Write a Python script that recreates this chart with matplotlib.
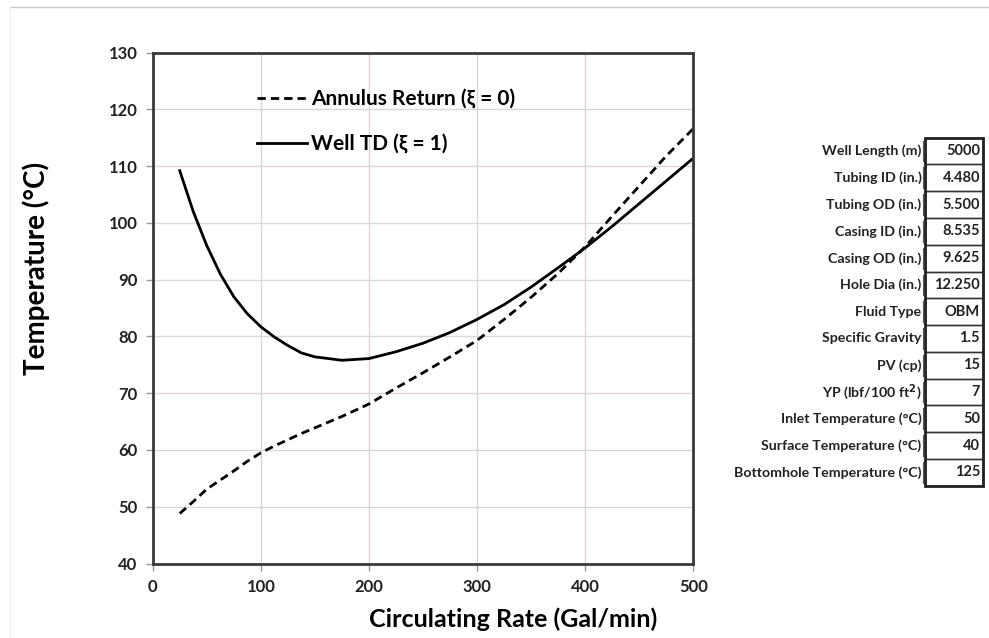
import matplotlib
matplotlib.use("Agg")
import matplotlib.pyplot as plt
from matplotlib.lines import Line2D
from matplotlib.patches import Rectangle

plt.rcParams['font.family'] = ['Lato', 'DejaVu Sans']
plt.rcParams['font.weight'] = 'bold'

# ---- data ----
rate = [25, 37.5, 50, 62.5, 75, 87.5, 100, 112.5, 125, 137.5, 150,
        175, 200, 225, 250, 275, 300, 325, 350, 375, 400, 425, 450, 475, 500]
annulus_return = [48.8, 50.9, 53.1, 54.7, 56.3, 58.0, 59.5, 60.7, 61.8, 62.9, 63.9,
                  65.9, 68.1, 70.9, 73.6, 76.4, 79.3, 83.0, 86.9, 91.1, 95.8,
                  101.2, 106.5, 111.8, 116.6]
well_td = [109.2, 102.0, 96.0, 91.0, 87.0, 84.0, 81.7, 79.9, 78.4, 77.1, 76.4,
           75.8, 76.1, 77.3, 78.8, 80.7, 83.0, 85.6, 88.7, 92.1, 95.6,
           99.4, 103.4, 107.4, 111.4]

x_ticks = [0, 100, 200, 300, 400, 500]
y_ticks = [40, 50, 60, 70, 80, 90, 100, 110, 120, 130]

param_names = ["Well Length (m)", "Tubing ID (in.)", "Tubing OD (in.)",
               "Casing ID (in.)", "Casing OD (in.)", "Hole Dia (in.)",
               "Fluid Type", "Specific Gravity", "PV (cp)",
               "YP (lbf/100 ft$^2$)", "Inlet Temperature (°C)",
               "Surface Temperature (°C)", "Bottomhole Temperature (°C)"]
param_values = ["5000", "4.480", "5.500", "8.535", "9.625", "12.250", "OBM",
                "1.5", "15", "7", "50", "40", "125"]

W, H = 989, 638
fig = plt.figure(figsize=(W / 100, H / 100), dpi=100)
ax = fig.add_axes([152.7 / W, 1 - 563.5 / H, (693.3 - 152.7) / W, (563.5 - 52.6) / H])

ax.plot(rate, annulus_return, color='black', lw=2, ls=(0, (3, 1.8)),
        label='Annulus Return (ξ = 0)')
ax.plot(rate, well_td, color='black', lw=2, ls='-', label='Well TD (ξ = 1)')

ax.set_xlim(0, 500)
ax.set_ylim(40, 130)
ax.set_xticks(x_ticks)
ax.set_yticks(y_ticks)
ax.grid(True, color='#dcd6d6', lw=1)
ax.set_axisbelow(True)
for s in ax.spines.values():
    s.set_color('#3a3a3a')
    s.set_linewidth(2)
ax.tick_params(direction='out', length=5, width=1, color='#999999',
               labelsize=12, pad=6)
for lab in ax.get_xticklabels() + ax.get_yticklabels():
    lab.set_fontweight('bold')
    lab.set_color('#222222')

ax.set_xlabel('Circulating Rate (Gal/min)', fontsize=18, fontweight='bold')
ax.set_ylabel('Temperature (°C)', fontsize=20, fontweight='bold')
ax.xaxis.set_label_coords(0.666, -0.085)
ax.yaxis.set_label_coords(-0.19, 0.578)

leg = ax.legend(loc='upper left', bbox_to_anchor=(0.158, 0.965), frameon=False,
                handlelength=2.4, handletextpad=0.2, labelspacing=1.2,
                prop={'size': 15, 'weight': 'bold'})

# ---- parameter table ----
box_l, box_r = 924.5 / W, 982.5 / W
top_px, row_h = 137.7, 26.77
n = len(param_names)
for i, (name, val) in enumerate(zip(param_names, param_values)):
    y0 = top_px + i * row_h
    yc = 1 - (y0 + row_h / 2) / H
    fig.patches.append(Rectangle((box_l, 1 - (y0 + row_h) / H), box_r - box_l, row_h / H,
                                 transform=fig.transFigure, fill=False,
                                 edgecolor='#333333', lw=1))
    fig.text(box_r - 2.5 / W, yc, val, ha='right', va='center', fontsize=10.5,
             fontweight='bold', color='#222222')
    fig.text(box_l - 3 / W, yc, name, ha='right', va='center', fontsize=10.2,
             fontweight='bold', color='#222222')
    fig.add_artist(Line2D([box_l - 1.5 / W, box_l - 1.5 / W],
                          [1 - (y0 + 3) / H, 1 - (y0 + row_h - 3) / H],
                          transform=fig.transFigure, color='#555555', lw=0.8))
fig.patches.append(Rectangle((box_l, 1 - (top_px + n * row_h) / H), box_r - box_l,
                             n * row_h / H, transform=fig.transFigure, fill=False,
                             edgecolor='#222222', lw=2))

# faint frame lines
fig.add_artist(Line2D([10 / W, 1], [1 - 7 / H, 1 - 7 / H], transform=fig.transFigure,
                      color='#c8c8c8', lw=1))
fig.add_artist(Line2D([10 / W, 10 / W], [0, 1 - 7 / H], transform=fig.transFigure,
                      color='#eeeeee', lw=1))

fig.savefig('out.png', dpi=100)
